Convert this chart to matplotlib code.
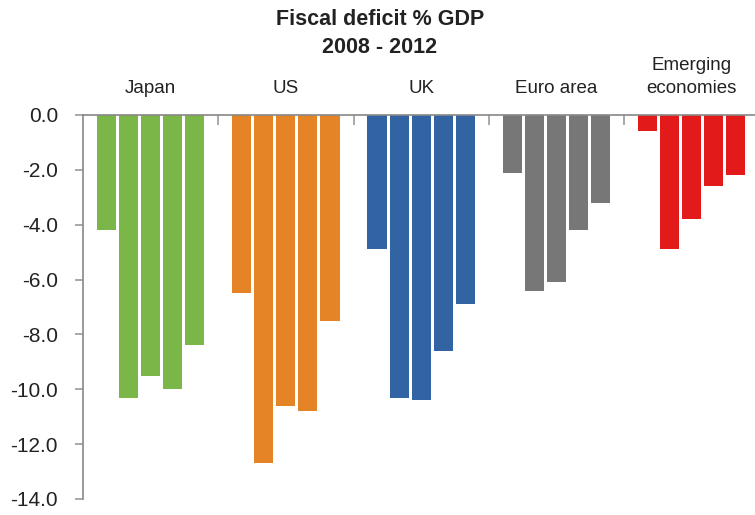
import matplotlib.pyplot as plt
import numpy as np
from matplotlib.ticker import FormatStrFormatter

plt.rcParams['font.family'] = ['Liberation Sans', 'DejaVu Sans']
plt.rcParams['axes.unicode_minus'] = False

# fiscal balance % GDP, 2008..2012
regions = ['Japan', 'US', 'UK', 'Euro area', 'Emerging\neconomies']
japan = [-4.2, -10.3, -9.5, -10.0, -8.4]
us = [-6.5, -12.7, -10.6, -10.8, -7.5]
uk = [-4.9, -10.3, -10.4, -8.6, -6.9]
euro = [-2.1, -6.4, -6.1, -4.2, -3.2]
emerging = [-0.6, -4.9, -3.8, -2.6, -2.2]
colors = ['#7ab648', '#e58426', '#3263a3', '#777777', '#e31a1a']

series = [japan, us, uk, euro, emerging]

fig = plt.figure(figsize=(7.55, 5.15), dpi=100)
ax = fig.add_axes([83 / 755, 16 / 515, 672 / 755, 384 / 515])

step = 0.163
width = 0.141
for g, vals in enumerate(series):
    x = g + 0.5 + (np.arange(len(vals)) - 2) * step
    ax.bar(x, vals, width=width, color=colors[g])

ax.set_ylim(-14, 0)
ax.set_xlim(0, 672 / 135.25)
ax.set_yticks(np.arange(-14, 0.1, 2))
ax.yaxis.set_major_formatter(FormatStrFormatter('%.1f'))

ax.xaxis.tick_top()
ax.set_xticks([1, 2, 3, 4])
ax.set_xticklabels([])
ax.set_xticks(np.arange(5) + 0.5, minor=True)
ax.set_xticklabels(regions, minor=True, fontsize=13.5, color='#222222', linespacing=1.45)
ax.tick_params(axis='x', which='major', direction='in', length=7, color='#999999', width=1.2)
ax.tick_params(axis='x', which='minor', length=0, pad=13)
ax.tick_params(axis='y', direction='out', length=6, color='#999999', width=1.2,
               labelsize=15, labelcolor='#222222', pad=12)

for s in ['right', 'bottom']:
    ax.spines[s].set_visible(False)
for s in ['left', 'top']:
    ax.spines[s].set_color('#888888')
    ax.spines[s].set_linewidth(1.2)

fig.text(0.503, 1 - 9 / 515, 'Fiscal deficit % GDP\n2008 - 2012', ha='center', va='top',
         fontsize=15.5, fontweight='bold', color='#222222', linespacing=1.45)

fig.savefig('out.png', dpi=100)
